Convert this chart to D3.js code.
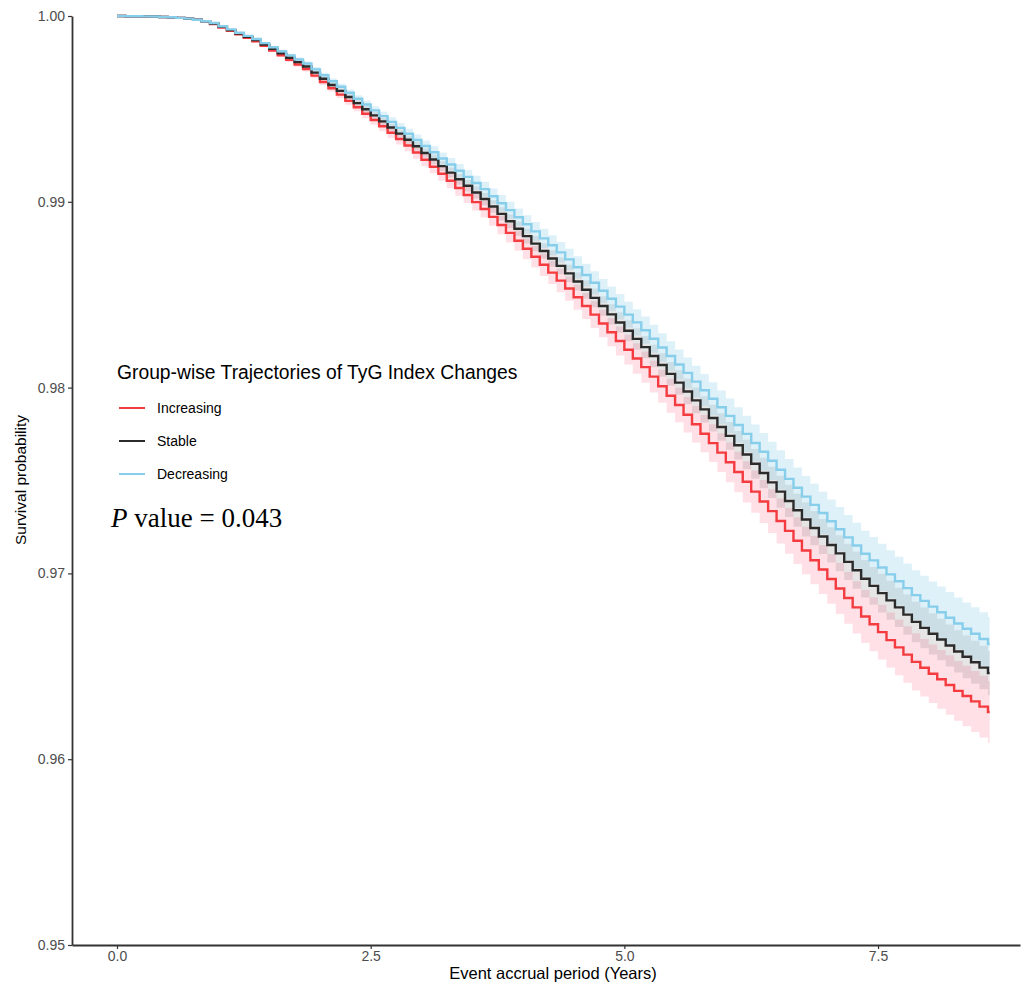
<!DOCTYPE html>
<html>
<head>
<meta charset="utf-8">
<script src="https://cdn.jsdelivr.net/npm/d3@7"></script>
<style>
  body { margin: 0; background: #fff; }
  text { font-family: "Liberation Sans", Arial, sans-serif; }
</style>
</head>
<body>
<svg id="chart" width="1023" height="982"></svg>
<script>
// groups + colours
const groups = ["Increasing", "Stable", "Decreasing"];
const lineColors = ["#F43B3F", "#2B2B2B", "#87CEEB"];
const bandColors = ["rgba(255,160,180,0.32)", "rgba(110,110,110,0.18)", "rgba(135,206,235,0.28)"];

// monthly event grid (month index), curve ends at 8.6 years
const months = d3.range(0, 104);
const endYear = 8.6;

const survIncreasing = [
  1.00000,0.99999,0.99999,0.99998,0.99997,0.99995,0.99993,0.99990,0.99986,0.99980,0.99972,
  0.99957,0.99938,0.99920,0.99901,0.99883,0.99864,0.99839,0.99814,0.99789,0.99764,0.99739,0.99714,
  0.99679,0.99645,0.99611,0.99577,0.99543,0.99509,0.99474,0.99440,0.99407,0.99372,0.99338,0.99303,
  0.99265,0.99226,0.99189,0.99151,0.99113,0.99074,0.99037,0.98998,0.98961,
  0.98919,0.98875,0.98833,0.98790,0.98747,0.98704,0.98661,0.98619,0.98576,0.98533,
  0.98486,0.98439,0.98393,0.98345,0.98298,0.98251,0.98204,0.98157,0.98110,
  0.98059,0.98007,0.97956,0.97906,0.97854,0.97803,0.97752,0.97701,0.97650,0.97598,
  0.97546,0.97493,0.97440,0.97387,0.97335,0.97282,0.97229,0.97176,0.97123,
  0.97071,0.97021,0.96970,0.96919,0.96868,0.96817,0.96768,
  0.96726,0.96684,0.96641,0.96602,0.96563,0.96524,
  0.96492,0.96460,0.96430,0.96399,0.96368,
  0.96340,0.96311,0.96283,0.96254
];
const survStable = [
  1.00000,0.99999,0.99999,0.99998,0.99997,0.99995,0.99993,0.99990,0.99986,0.99980,0.99972,
  0.99960,0.99942,0.99924,0.99906,0.99888,0.99870,0.99846,0.99823,0.99799,0.99775,0.99752,0.99728,
  0.99695,0.99662,0.99629,0.99597,0.99564,0.99531,0.99498,0.99465,0.99433,0.99400,0.99367,0.99334,
  0.99299,0.99263,0.99228,0.99192,0.99157,0.99121,0.99086,0.99050,0.99015,
  0.98975,0.98935,0.98895,0.98855,0.98815,0.98775,0.98735,0.98695,0.98655,0.98615,
  0.98571,0.98527,0.98483,0.98439,0.98394,0.98350,0.98306,0.98262,0.98218,
  0.98170,0.98122,0.98074,0.98027,0.97979,0.97931,0.97883,0.97836,0.97788,0.97740,
  0.97690,0.97640,0.97590,0.97540,0.97490,0.97440,0.97390,0.97340,0.97290,
  0.97244,0.97199,0.97153,0.97108,0.97062,0.97017,0.96971,
  0.96933,0.96894,0.96855,0.96817,0.96778,0.96739,
  0.96707,0.96675,0.96644,0.96612,0.96580,
  0.96551,0.96522,0.96493,0.96464
];
const survDecreasing = [
  1.00000,0.99999,0.99999,0.99998,0.99997,0.99995,0.99993,0.99990,0.99986,0.99980,0.99972,
  0.99962,0.99945,0.99928,0.99910,0.99893,0.99876,0.99854,0.99832,0.99810,0.99788,0.99766,0.99744,
  0.99713,0.99681,0.99649,0.99619,0.99587,0.99555,0.99524,0.99492,0.99461,0.99430,0.99398,0.99366,
  0.99333,0.99300,0.99267,0.99233,0.99201,0.99167,0.99134,0.99101,0.99068,
  0.99030,0.98992,0.98955,0.98917,0.98879,0.98841,0.98803,0.98766,0.98728,0.98690,
  0.98648,0.98606,0.98564,0.98521,0.98478,0.98436,0.98393,0.98351,0.98309,
  0.98263,0.98216,0.98170,0.98124,0.98079,0.98032,0.97986,0.97940,0.97894,0.97848,
  0.97799,0.97751,0.97702,0.97655,0.97606,0.97558,0.97509,0.97461,0.97413,
  0.97369,0.97325,0.97281,0.97238,0.97194,0.97150,0.97106,
  0.97070,0.97032,0.96995,0.96958,0.96921,0.96883,
  0.96852,0.96821,0.96791,0.96761,0.96730,
  0.96702,0.96675,0.96647,0.96620
];

// 95% CI half widths, in units of 1e-5
const ciIncreasing = [
  0,0,0,0,0,0,0,0,1,1,1,
  2,3,4,4,5,6,7,8,9,11,12,13,
  14,16,18,19,21,22,24,25,27,28,30,31,
  33,35,36,38,40,41,43,45,46,
  48,50,52,54,56,58,60,62,63,65,
  67,70,72,74,76,78,80,82,84,
  86,89,91,93,95,98,100,102,104,107,
  109,111,114,116,118,121,123,126,128,
  130,132,134,137,139,141,143,
  145,147,148,150,152,154,
  155,157,158,160,161,
  163,164,166,167
];
const ciStable = [
  0,0,0,0,0,0,0,0,0,1,1,
  1,2,3,3,4,4,5,6,7,8,8,9,
  10,11,12,13,15,16,17,18,19,20,21,22,
  23,25,26,27,28,29,31,32,33,
  34,36,37,38,40,41,42,44,45,46,
  48,49,51,52,54,55,57,58,60,
  61,63,64,66,68,69,71,72,74,75,
  77,79,80,82,84,86,87,89,91,
  92,94,95,97,98,100,101,
  102,104,105,106,108,109,
  110,111,112,113,114,
  115,116,117,118
];
const ciDecreasing = [
  0,0,0,0,0,0,0,0,0,1,1,
  2,2,3,4,5,5,6,7,8,9,10,11,
  13,14,15,17,18,19,21,22,23,25,26,27,
  29,30,32,33,35,36,37,39,40,
  42,44,45,47,49,50,52,54,55,57,
  59,60,62,64,66,68,69,71,73,
  75,77,79,81,83,85,87,89,91,93,
  95,97,99,101,103,105,107,109,111,
  113,115,117,119,120,122,124,
  126,127,129,131,132,134,
  135,136,138,139,140,
  141,143,144,145
];

const xTicks = [0, 2.5, 5.0, 7.5];
const yTicks = [0.95, 0.96, 0.97, 0.98, 0.99, 1.00];

const survs = [survIncreasing, survStable, survDecreasing];
const cis = [ciIncreasing, ciStable, ciDecreasing];

function buildSeries(surv, ci) {
  let pts = months.map((m, i) => ({ t: m / 12, s: surv[i], lo: surv[i] - ci[i] / 1e5, hi: surv[i] + ci[i] / 1e5 }));
  let last = pts[pts.length - 1];
  pts.push({ t: endYear, s: last.s, lo: last.lo, hi: last.hi });
  return pts;
}
const series = groups.map((g, i) => ({ name: g, data: buildSeries(survs[i], cis[i]), line: lineColors[i], band: bandColors[i] }));

const svg = d3.select("#chart");
const margin = { top: 16, right: 3, bottom: 37, left: 72 };
const width = 1023, height = 982;

let x = d3.scaleLinear().domain([-0.4435, 8.899]).range([margin.left, width - margin.right]);
let y = d3.scaleLinear().domain([0.95, 1.0]).range([height - margin.bottom, margin.top]);

let area = d3.area()
  .curve(d3.curveStepAfter)
  .x(d => x(d.t))
  .y0(d => y(d.lo))
  .y1(d => y(d.hi));

let line = d3.line()
  .curve(d3.curveStepAfter)
  .x(d => x(d.t))
  .y(d => y(d.s));

// bands
svg.append("g").selectAll("path").data(series).join("path")
  .attr("fill", d => d.band)
  .attr("d", d => area(d.data));

// lines
svg.append("g").selectAll("path").data(series).join("path")
  .attr("fill", "none")
  .attr("stroke", d => d.line)
  .attr("stroke-width", 2.4)
  .attr("d", d => line(d.data));

// axes
let xAxis = g => g
  .attr("transform", `translate(0,${height - margin.bottom})`)
  .call(d3.axisBottom(x).tickValues(xTicks).tickFormat(d3.format(".1f")).tickSize(4).tickSizeOuter(0))
  .call(g => g.select(".domain").attr("stroke", "#333").attr("stroke-width", 1.8));

let yAxis = g => g
  .attr("transform", `translate(${margin.left},0)`)
  .call(d3.axisLeft(y).tickValues(yTicks).tickFormat(d3.format(".2f")).tickSize(4).tickSizeOuter(0))
  .call(g => g.select(".domain").attr("stroke", "#333").attr("stroke-width", 1.8));

let gx = svg.append("g").call(xAxis);
svg.append("g").call(yAxis);

svg.selectAll(".tick line").attr("stroke", "#333").attr("stroke-width", 1.2);
svg.selectAll(".tick text")
  .attr("fill", "#4D4D4D")
  .style("font-size", "14px")
  .style("font-family", "'Liberation Sans', Arial, sans-serif");
gx.selectAll(".tick text").attr("y", 6).attr("dy", "0.71em");

// axis titles
svg.append("text")
  .attr("x", 553).attr("y", 979)
  .attr("text-anchor", "middle")
  .style("font-size", "16.5px")
  .attr("fill", "#000")
  .text("Event accrual period (Years)");

svg.append("text")
  .attr("transform", "translate(26,480) rotate(-90)")
  .attr("text-anchor", "middle")
  .style("font-size", "15.5px")
  .attr("fill", "#000")
  .text("Survival probability");

// legend
let legend = svg.append("g");
legend.append("text")
  .attr("x", 117).attr("y", 379)
  .style("font-size", "19.3px")
  .attr("fill", "#000")
  .text("Group-wise Trajectories of TyG Index Changes");

let legendY = [408, 441, 474];
series.forEach((s, i) => {
  legend.append("line")
    .attr("x1", 119).attr("x2", 145)
    .attr("y1", legendY[i]).attr("y2", legendY[i])
    .attr("stroke", s.line).attr("stroke-width", 2);
  legend.append("text")
    .attr("x", 157).attr("y", legendY[i] + 5)
    .style("font-size", "14px")
    .attr("fill", "#000")
    .text(s.name);
});

// p value
let pText = svg.append("text")
  .attr("x", 111).attr("y", 527)
  .style("font-family", "'Liberation Serif', 'Times New Roman', serif")
  .style("font-size", "27px")
  .attr("fill", "#000");
pText.append("tspan").style("font-style", "italic").style("font-family", "'Liberation Serif', 'Times New Roman', serif").text("P");
pText.append("tspan").style("font-family", "'Liberation Serif', 'Times New Roman', serif").text(" value = 0.043");
</script>
</body>
</html>
